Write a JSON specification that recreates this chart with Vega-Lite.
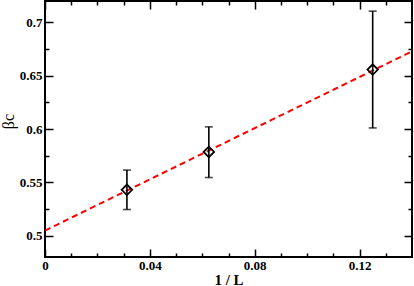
{
  "$schema": "https://vega.github.io/schema/vega-lite/v6.json",
  "width": 367,
  "height": 256,
  "autosize": "none",
  "padding": {"left": 45, "top": 1, "right": 2, "bottom": 29},
  "config": {
    "view": {"stroke": "black", "strokeWidth": 2},
    "axis": {
      "domain": false, "grid": false, "tickColor": "black", "tickWidth": 1.5,
      "labelFont": "Liberation Serif", "labelFontWeight": "bold", "labelFontSize": 13,
      "labelColor": "black", "titleFont": "Liberation Serif", "titleColor": "black", "labelFlush": false
    }
  },
  "datasets": {
    "pts": [
      {"invL": 0.03125, "beta": 0.543, "lo": 0.5245, "hi": 0.5615},
      {"invL": 0.0625, "beta": 0.5785, "lo": 0.5545, "hi": 0.602},
      {"invL": 0.125, "beta": 0.6557, "lo": 0.601, "hi": 0.7105}
    ],
    "fit": [
      {"invL": 0, "beta": 0.5048},
      {"invL": 0.14, "beta": 0.6728}
    ]
  },
  "resolve": {"axis": {"x": "independent", "y": "independent"}},
  "layer": [
    {
      "data": {"name": "fit"},
      "mark": {"type": "line", "color": "#ff0000", "strokeWidth": 2, "strokeDash": [6, 4], "clip": true},
      "encoding": {
        "x": {"field": "invL", "type": "quantitative",
          "scale": {"domain": [0, 0.14], "nice": false, "zero": false},
          "axis": {"orient": "bottom", "values": [0, 0.04, 0.08, 0.12], "format": ".2~f", "ticks": false, "labelPadding": 2,
            "title": "1 / L", "titleFontSize": 15, "titleFontWeight": "bold", "titlePadding": 0}},
        "y": {"field": "beta", "type": "quantitative",
          "scale": {"domain": [0.48, 0.72], "nice": false, "zero": false},
          "axis": {"orient": "left", "values": [0.5, 0.55, 0.6, 0.65, 0.7], "format": ".2~f", "ticks": false, "labelPadding": 3,
            "title": "βc", "titleFontSize": 16, "titleFontWeight": "normal", "titlePadding": 3, "titleY": 120}}
      }
    },
    {
      "data": {"name": "pts"},
      "mark": {"type": "rule", "color": "black", "strokeWidth": 1.6},
      "encoding": {
        "x": {"field": "invL", "type": "quantitative",
          "scale": {"domain": [0, 0.14], "nice": false, "zero": false},
          "axis": {"orient": "bottom", "values": [0, 0.04, 0.08, 0.12], "tickSize": -8, "labels": false, "title": null}},
        "y": {"field": "lo", "type": "quantitative",
          "scale": {"domain": [0.48, 0.72], "nice": false, "zero": false},
          "axis": {"orient": "left", "values": [0.5, 0.55, 0.6, 0.65, 0.7], "tickSize": -8, "labels": false, "title": null}},
        "y2": {"field": "hi"}
      }
    },
    {
      "data": {"name": "pts"},
      "mark": {"type": "tick", "orient": "horizontal", "color": "black", "size": 8, "thickness": 1.6},
      "encoding": {
        "x": {"field": "invL", "type": "quantitative",
          "scale": {"domain": [0, 0.14], "nice": false, "zero": false},
          "axis": {"orient": "bottom", "values": [0.01, 0.02, 0.03, 0.05, 0.06, 0.07, 0.09, 0.1, 0.11, 0.13], "tickSize": -4, "labels": false, "title": null}},
        "y": {"field": "lo", "type": "quantitative",
          "scale": {"domain": [0.48, 0.72], "nice": false, "zero": false},
          "axis": {"orient": "left", "values": [0.525, 0.575, 0.625, 0.675], "tickSize": -4, "labels": false, "title": null}}
      }
    },
    {
      "data": {"name": "pts"},
      "mark": {"type": "tick", "orient": "horizontal", "color": "black", "size": 8, "thickness": 1.6},
      "encoding": {
        "x": {"field": "invL", "type": "quantitative",
          "scale": {"domain": [0, 0.14], "nice": false, "zero": false},
          "axis": {"orient": "top", "values": [0, 0.04, 0.08, 0.12], "tickSize": -8, "labels": false, "title": null}},
        "y": {"field": "hi", "type": "quantitative",
          "scale": {"domain": [0.48, 0.72], "nice": false, "zero": false},
          "axis": {"orient": "right", "values": [0.5, 0.55, 0.6, 0.65, 0.7], "tickSize": -8, "labels": false, "title": null}}
      }
    },
    {
      "data": {"name": "pts"},
      "mark": {"type": "point", "shape": "diamond", "size": 110, "filled": false, "stroke": "black", "strokeWidth": 1.8, "opacity": 1},
      "encoding": {
        "x": {"field": "invL", "type": "quantitative", "scale": {"domain": [0, 0.14], "nice": false, "zero": false},
          "axis": {"orient": "top", "values": [0.01, 0.02, 0.03, 0.05, 0.06, 0.07, 0.09, 0.1, 0.11, 0.13], "tickSize": -4, "labels": false, "title": null}},
        "y": {"field": "beta", "type": "quantitative", "scale": {"domain": [0.48, 0.72], "nice": false, "zero": false},
          "axis": {"orient": "right", "values": [0.525, 0.575, 0.625, 0.675], "tickSize": -4, "labels": false, "title": null}}
      }
    }
  ]
}
